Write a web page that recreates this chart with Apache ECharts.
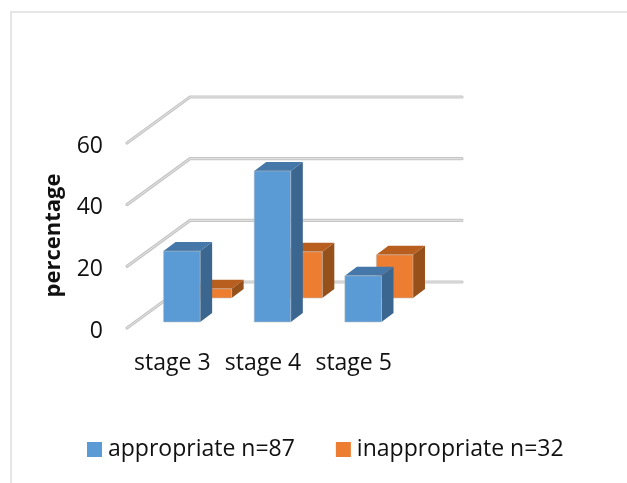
<!DOCTYPE html>
<html>
<head>
<meta charset="utf-8">
<style>
html, body { margin: 0; padding: 0; background: #fff; }
#chart { width: 627px; height: 483px; }
</style>
<script src="https://cdn.jsdelivr.net/npm/echarts@6/dist/echarts.min.js"></script>
</head>
<body>
<div id="chart"></div>
<script>
var stages = ['stage 3', 'stage 4', 'stage 5'];
var appropriate = [23, 49, 15];
var inappropriate = [3, 15, 14];
var ticks = [0, 20, 40, 60];

var chart = echarts.init(document.getElementById('chart'));
var FONT = '"Open Sans"';

// fake 3d: depth of the floor, and where each series row sits on it
var wallDx = 63, wallDy = -46;
var barDx = 12, barDy = -9;

function renderWall(params, api) {
    var front = api.coord([0, api.value(0)]);
    // category axis, 0 is the centre of the first band
    var band = api.size([1, 0])[0];
    var x0 = front[0] - band / 2;
    var y0 = front[1];
    var pts = [[x0, y0], [x0 + wallDx, y0 + wallDy], [x0 + wallDx + band * 3, y0 + wallDy]];
    return {
        type: 'group',
        children: [
            { type: 'polyline', shape: { points: pts }, style: { fill: null, stroke: '#c6c6c6', lineWidth: 3.2, lineCap: 'round' } },
            { type: 'polyline', shape: { points: pts }, style: { fill: null, stroke: '#e4e4e4', lineWidth: 1, lineCap: 'round' } }
        ]
    };
}

function barRenderer(rowDx, rowDy, front, top, side) {
    return function (params, api) {
        var base = api.coord([api.value(0), 0]);
        var head = api.coord([api.value(0), api.value(1)]);
        var w = api.size([1, 0])[0] * 0.404;
        var l = base[0] - w / 2 + rowDx, r = l + w;
        var b = base[1] + rowDy, t = head[1] + rowDy;
        var edge = 'rgba(190,190,190,0.55)';
        return {
            type: 'group',
            children: [
                {
                    type: 'polygon',
                    shape: { points: [[r, b], [r + barDx, b + barDy], [r + barDx, t + barDy], [r, t]] },
                    style: { fill: side }
                },
                {
                    type: 'polygon',
                    shape: { points: [[l, t], [r, t], [r + barDx, t + barDy], [l + barDx, t + barDy]] },
                    style: { fill: top }
                },
                {
                    type: 'rect',
                    shape: { x: l, y: t, width: w, height: b - t },
                    style: { fill: front, stroke: edge, lineWidth: 1 }
                }
            ]
        };
    };
}

chart.setOption({
    animation: false,
    backgroundColor: '#fff',
    textStyle: { fontFamily: FONT },
    graphic: [{
        type: 'polyline',
        silent: true,
        shape: { points: [[11, 483], [11, 12], [627, 12]] },
        style: { fill: null, stroke: '#dedede', lineWidth: 1.5 }
    }],
    grid: { left: 127, top: 143, width: 272, height: 185 },
    xAxis: {
        type: 'category',
        data: stages,
        axisLine: { show: false },
        axisTick: { show: false },
        axisLabel: { color: '#111', fontSize: 23, fontFamily: FONT, margin: 24, interval: 0 }
    },
    yAxis: {
        type: 'value',
        min: 0,
        max: 60,
        interval: 20,
        name: 'percentage',
        nameLocation: 'middle',
        nameGap: 62,
        nameTextStyle: { color: '#111', fontSize: 22, fontWeight: 'bold', fontFamily: FONT },
        axisLine: { show: false },
        axisTick: { show: false },
        splitLine: { show: false },
        axisLabel: {
            margin: 24,
            formatter: '{t|{value}}',
            rich: { t: { color: '#111', fontSize: 23, fontFamily: FONT, padding: [6, 0, 0, 0] } }
        }
    },
    legend: {
        data: ['appropriate n=87', 'inappropriate n=32'],
        left: 82,
        top: 433,
        icon: 'rect',
        itemWidth: 15,
        itemHeight: 15,
        itemGap: 41,
        textStyle: { color: '#111', fontSize: 23, fontFamily: FONT, padding: [4, 0, 0, 1] }
    },
    series: [
        {
            type: 'custom',
            name: 'walls',
            silent: true,
            renderItem: renderWall,
            encode: { y: 0 },
            data: ticks.map(function (v) { return [v]; }),
            z: 1
        },
        {
            type: 'custom',
            name: 'inappropriate n=32',
            itemStyle: { color: '#ed7d31' },
            renderItem: barRenderer(41, -30, '#ed7d31', '#b85f1f', '#96511b'),
            encode: { x: 0, y: 1 },
            data: inappropriate.map(function (v, i) { return [i, v]; }),
            z: 2
        },
        {
            type: 'custom',
            name: 'appropriate n=87',
            itemStyle: { color: '#5b9bd5' },
            renderItem: barRenderer(9.5, -6, '#5b9bd5', '#4577a8', '#3a668f'),
            encode: { x: 0, y: 1 },
            data: appropriate.map(function (v, i) { return [i, v]; }),
            z: 3
        }
    ]
});
</script>
</body>
</html>
